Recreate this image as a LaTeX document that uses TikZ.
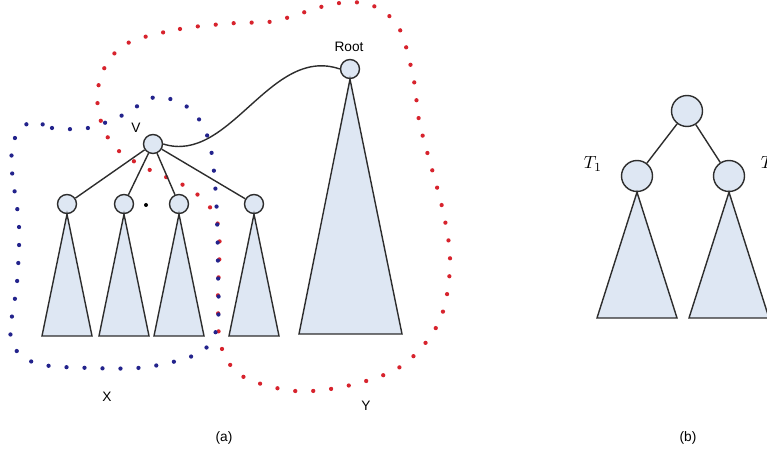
\documentclass[tikz,border=0pt]{standalone}
\usepackage{fontspec}
\setmainfont{Liberation Sans}
\usepackage{tikz}
\usetikzlibrary{positioning, calc}
\definecolor{treefill}{RGB}{222,231,243}
\definecolor{treeline}{RGB}{45,45,45}
\definecolor{ydot}{RGB}{215,35,45}
\definecolor{xdot}{RGB}{35,35,140}
\tikzset{
    vertex/.style={circle, draw=treeline, fill=treefill, thick, minimum size=0.38cm, inner sep=0pt},
    bigvertex/.style={circle, draw=treeline, fill=treefill, thick, minimum size=0.62cm, inner sep=0pt},
    subtree/.style={draw=treeline, fill=treefill, thick, line join=miter},
    edge/.style={draw=treeline, thick},
    lbl/.style={inner sep=0pt, font=\fontsize{7.8}{9}\selectfont},
    mathlbl/.style={inner sep=0pt, font=\fontsize{10}{12}\selectfont},
    xloop/.style={draw=xdot, line width=0.085cm, line cap=round, dash pattern=on 0pt off 0.36cm},
    yloop/.style={draw=ydot, line width=0.085cm, line cap=round, dash pattern=on 0pt off 0.36cm},
}

\begin{document}
\begin{tikzpicture}[x=0.02cm, y=-0.02cm]
        \useasboundingbox (0,0) rectangle (767,455);
        \clip (0,0) rectangle (767,455);

        % Dotted regions
        \draw[yloop] plot[smooth cycle, tension=0.55] coordinates {
            (126,44) (180,29) (236,23) (275,21) (333,4) (371,5) (399,28) (414,81)
            (420,125) (443,211) (450,266) (439,322) (403,365) (351,385) (295,391)
            (242,376) (221,346) (218,300) (218,225) (193,191) (142,166) (112,144)
            (98,109) (102,73)};
        \draw[xloop] plot[smooth cycle, tension=0.55] coordinates {
            (32,121) (52,128) (88,128) (123,115) (156,97) (190,109) (209,141)
            (216,197) (218,270) (217,327) (199,353) (147,367) (92,368) (35,363)
            (11,339) (17,283) (19,226) (12,171) (14,140)};

        % Nodes (a)
        \node[vertex] (root) at (350,69) {};
        \node[vertex] (v) at (153,144) {};
        \node[vertex] (c1) at (67,204) {};
        \node[vertex] (c2) at (124,204) {};
        \node[vertex] (c3) at (179,204) {};
        \node[vertex] (c4) at (254,204) {};
        \node[lbl] (rootlbl) at (349,47) {Root};
        \node[lbl] (vlbl) at (136,128) {V};
        \node[circle, fill=black, inner sep=0pt, minimum size=0.08cm] (mark) at (146,205) {};

        % Subtrees (a)
        \path[subtree] (root.south) -- (402,334) -- (299,334) -- cycle;
        \path[subtree] (c1.south) -- (92,336) -- (42,336) -- cycle;
        \path[subtree] (c2.south) -- (149,336) -- (99,336) -- cycle;
        \path[subtree] (c3.south) -- (204,336) -- (154,336) -- cycle;
        \path[subtree] (c4.south) -- (279,336) -- (229,336) -- cycle;

        % Edges (a)
        \draw[edge] (v) -- (c1);
        \draw[edge] (v) -- (c2);
        \draw[edge] (v) -- (c3);
        \draw[edge] (v) -- (c4);
        \draw[edge] (v.east) .. controls (230,165) and (270,45) .. (root.west);

        \node[lbl] (xlbl) at (107,397) {X};
        \node[lbl] (ylbl) at (366,406) {Y};
        \node[lbl] (alab) at (224,438) {(a)};

        % Nodes (b)
        \node[bigvertex] (top) at (687,111) {};
        \node[bigvertex] (t1) at (637,176) {};
        \node[bigvertex] (t2) at (729,176) {};
        \path[subtree] (t1.south) -- (677,318) -- (597,318) -- cycle;
        \path[subtree] (t2.south) -- (769,318) -- (689,318) -- cycle;
        \draw[edge] (top) -- (t1);
        \draw[edge] (top) -- (t2);
        \node[mathlbl] (t1lbl) at (593,164) {$T_1$};
        \node[mathlbl] (t2lbl) at (770,164) {$T_2$};
        \node[lbl] (blab) at (688,438) {(b)};
    \end{tikzpicture}
\end{document}
